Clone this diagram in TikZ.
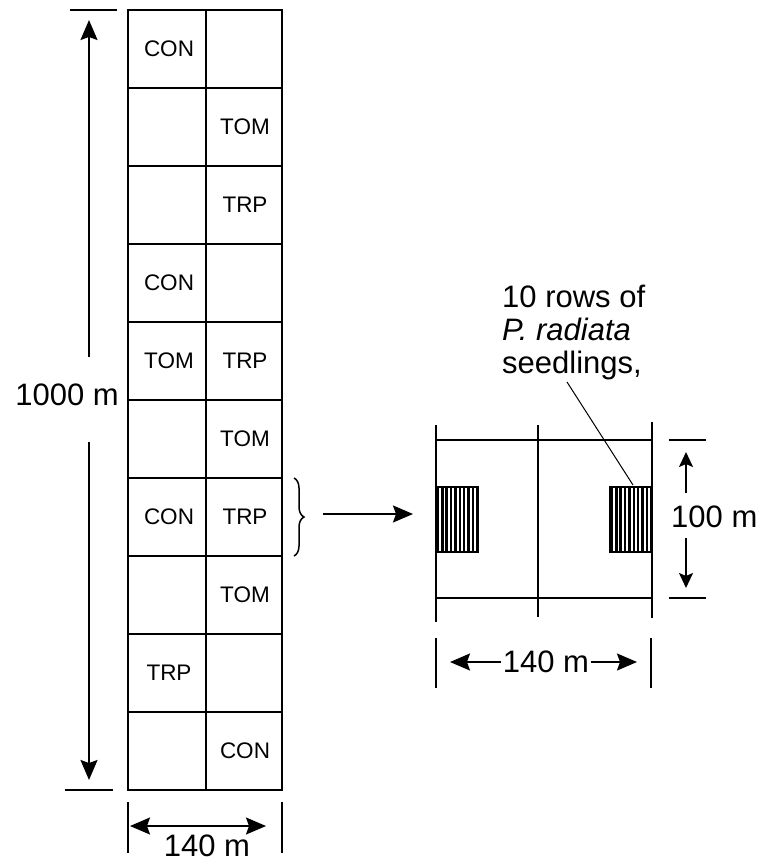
\documentclass[tikz,border=0pt]{standalone}
\usepackage{fontspec}
\setmainfont{Liberation Sans}
\usetikzlibrary{arrows.meta,decorations.pathreplacing}
\tikzset{
  plotline/.style={line width=2pt},
  tickline/.style={line width=1.4pt},
  bigtip/.style={line width=1.8pt,-{Stealth[length=20pt,width=17pt,inset=3pt]}},
  bothtips/.style={line width=1.8pt,{Stealth[length=20pt,width=17pt,inset=3pt]}-{Stealth[length=20pt,width=17pt,inset=3pt]}},
  smalltip/.style={line width=1.8pt,-{Stealth[length=15pt,width=14pt,inset=3pt]}},
  celltext/.style={inner sep=0pt,font=\fontsize{22.5}{25}\selectfont},
  dimtext/.style={inner sep=0pt,font=\fontsize{31}{33}\selectfont}
}
\begin{document}
\begin{tikzpicture}[x=1pt,y=-1pt]
                    \useasboundingbox (0,0) rectangle (761,864);
                    % trial strip, 10 blocks of 2 plots
                    \draw[plotline] (128,10) rectangle (282,790);
                    \draw[plotline] (206,10) -- (206,790);
                    \foreach \y in {88,166,...,712}
                        \draw[plotline] (128,\y) -- (282,\y);
                    \foreach \row/\col/\trt in {1/0/CON,2/1/TOM,3/1/TRP,4/0/CON,5/0/TOM,5/1/TRP,6/1/TOM,7/0/CON,7/1/TRP,8/1/TOM,9/0/TRP,10/1/CON}
                        \node[celltext] (plot\row\col) at ({169+76*\col},{49+78*(\row-1)}) {\trt};
                    % length of strip
                    \draw[tickline] (70,10) -- (117,10);
                    \draw[tickline] (65,790) -- (113,790);
                    \node[dimtext] (striplen) at (67,395) {1000 m};
                    \coordinate (lentop) at (89,20);
                    \coordinate (lenbot) at (89,780);
                    \draw[bigtip] (89,357) -- (lentop);
                    \draw[bigtip] (89,442) -- (lenbot);
                    % width of strip
                    \draw[tickline] (128,802) -- (128,853);
                    \draw[tickline] (282,802) -- (282,853);
                    \coordinate (widl) at (130,826);
                    \coordinate (widr) at (266,826);
                    \draw[bothtips] (widl) -- (widr);
                    \node[dimtext] (stripwid) at (207,846) {140 m};
                    % block taken out
                    \coordinate (bracetop) at (294,478);
                    \coordinate (bracebot) at (294,556);
                    \draw[decorate,decoration={brace,amplitude=10pt},line width=1.5pt] (bracetop) -- (bracebot);
                    \coordinate (outl) at (323,514);
                    \coordinate (outr) at (413,514);
                    \draw[bigtip] (outl) -- (outr);
                    % enlarged block
                    \draw[plotline] (436,425) -- (436,622);
                    \draw[plotline] (538,425) -- (538,617);
                    \draw[plotline] (652,422) -- (652,618);
                    \draw[plotline] (436,440) -- (652,440);
                    \draw[plotline] (436,598) -- (652,598);
                    \foreach \x in {436,610} {
                        \draw[line width=1.6pt] (\x,487) rectangle ({\x+42},552);
                        \foreach \i in {0,...,9}
                            \draw[line width=2.5pt] ({\x+2+4.35*\i},487) -- ({\x+2+4.35*\i},552);
                    }
                    \node[dimtext,anchor=north west,align=left] (seedlings) at (502,285) {10 rows of\\\textit{P. radiata}\\seedlings,};
                    \coordinate (hatchtop) at (633,485);
                    \draw[line width=1pt] (567,382) -- (hatchtop);
                    % block height
                    \draw[tickline] (669,440) -- (706,440);
                    \draw[tickline] (669,598) -- (706,598);
                    \node[dimtext,anchor=west] (blockhgt) at (671,517) {100 m};
                    \coordinate (hgttop) at (686,452);
                    \coordinate (hgtbot) at (686,588);
                    \draw[smalltip] (686,493) -- (hgttop);
                    \draw[smalltip] (686,538) -- (hgtbot);
                    % block width
                    \draw[tickline] (436,638) -- (436,688);
                    \draw[tickline] (651,638) -- (651,688);
                    \node[dimtext] (blockwid) at (546,662) {140 m};
                    \coordinate (bwidl) at (450,662);
                    \coordinate (bwidr) at (637,662);
                    \draw[bigtip] ([xshift=-2pt]blockwid.west) -- (bwidl);
                    \draw[bigtip] ([xshift=2pt]blockwid.east) -- (bwidr);
                    %\draw[red] (0,0) rectangle (761,864);
                \end{tikzpicture}
\end{document}
